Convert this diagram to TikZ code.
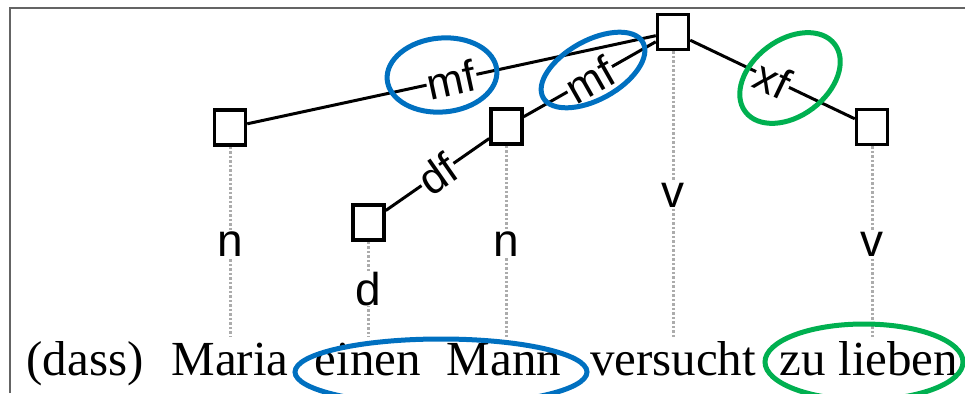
\documentclass[tikz,border=0pt]{standalone}
\usepackage{fontspec}
\setmainfont{Liberation Serif}
\newfontfamily\labelfont{Liberation Sans}
\definecolor{hlblue}{RGB}{0,112,192}
\definecolor{hlgreen}{RGB}{0,176,80}
\definecolor{framegray}{RGB}{100,100,100}
\begin{document}
\begin{tikzpicture}[x=1pt,y=-1pt,
  headbox/.style={draw, line width=3.5pt, minimum width=31pt, minimum height=35pt, inner sep=0pt, fill=white},
  dep/.style={line width=3pt},
  deplabel/.style={sloped, fill=white, inner sep=1pt, font=\labelfont\fontsize{44}{44}\selectfont},
  proj/.style={gray!65, line width=3pt, dash pattern=on 2.5pt off 2pt},
  cat/.style={fill=white, inner sep=1pt, anchor=base, font=\labelfont\fontsize{46}{46}\selectfont},
  word/.style={anchor=base, inner sep=0pt, font=\fontsize{49}{49}\selectfont},
  ring/.style={line width=5pt}]
\useasboundingbox (0,0) rectangle (965,393);

% frame (top and left edges)
\draw[framegray, line width=1.5pt] (10,393) -- (10,8) -- (965,8);

% head boxes
\node[headbox] (hMaria) at (230,127.5) {};
\node[headbox] (hMann) at (506.5,126.5) {};
\node[headbox] (hversucht) at (673,32) {};
\node[headbox] (hlieben) at (872,127) {};
\node[headbox] (heinen) at (368.5,222.5) {};

% words
\node[word] (wdass) at (85,375) {(dass)};
\node[word] (wMaria) at (230,375) {Maria};
\node[word] (weinen) at (368,375) {einen};
\node[word] (wMann) at (504,375) {Mann};
\node[word] (wversucht) at (673,375) {versucht};
\node[word] (wlieben) at (869,375) {zu lieben};

% projection lines ending just above the words
\coordinate (pMaria) at (230,337);
\coordinate (peinen) at (368.5,337);
\coordinate (pMann) at (506.5,337);
\coordinate (pversucht) at (673,337);
\coordinate (plieben) at (872,337);
\draw[proj] (hMaria.south) -- (pMaria);
\draw[proj] (heinen.south) -- (peinen);
\draw[proj] (hMann.south) -- (pMann);
\draw[proj] (hversucht.south) -- (pversucht);
\draw[proj] (hlieben.south) -- (plieben);

% word categories
\node[cat] (cMaria) at (230,256) {n};
\node[cat] (ceinen) at (368.5,305) {d};
\node[cat] (cMann) at (506.5,256) {n};
\node[cat] (cversucht) at (673,207) {v};
\node[cat] (clieben) at (872,256) {v};

% dependencies
\draw[dep] (hMaria) -- node[deplabel] (lmf1) {mf} (hversucht);
\draw[dep] (hMann) -- node[deplabel] (lmf2) {mf} (hversucht);
\draw[dep] (hversucht) -- node[deplabel] (lxf) {xf} (hlieben);
\draw[dep] (hMann) -- node[deplabel] (ldf) {df} (heinen);

% highlight rings
\draw[ring, hlblue, rotate around={5:(442,75)}] (442,75) ellipse [x radius=55, y radius=37];
\draw[ring, hlblue, rotate around={29:(593,70)}] (593,70) ellipse [x radius=57, y radius=29.5];
\draw[ring, hlgreen, rotate around={37:(790,78)}] (790,78) ellipse [x radius=56, y radius=38];
\draw[ring, hlblue] (441,372) ellipse [x radius=146, y radius=33];
\draw[ring, hlgreen] (864,362) ellipse [x radius=99, y radius=38];
\end{tikzpicture}
\end{document}
